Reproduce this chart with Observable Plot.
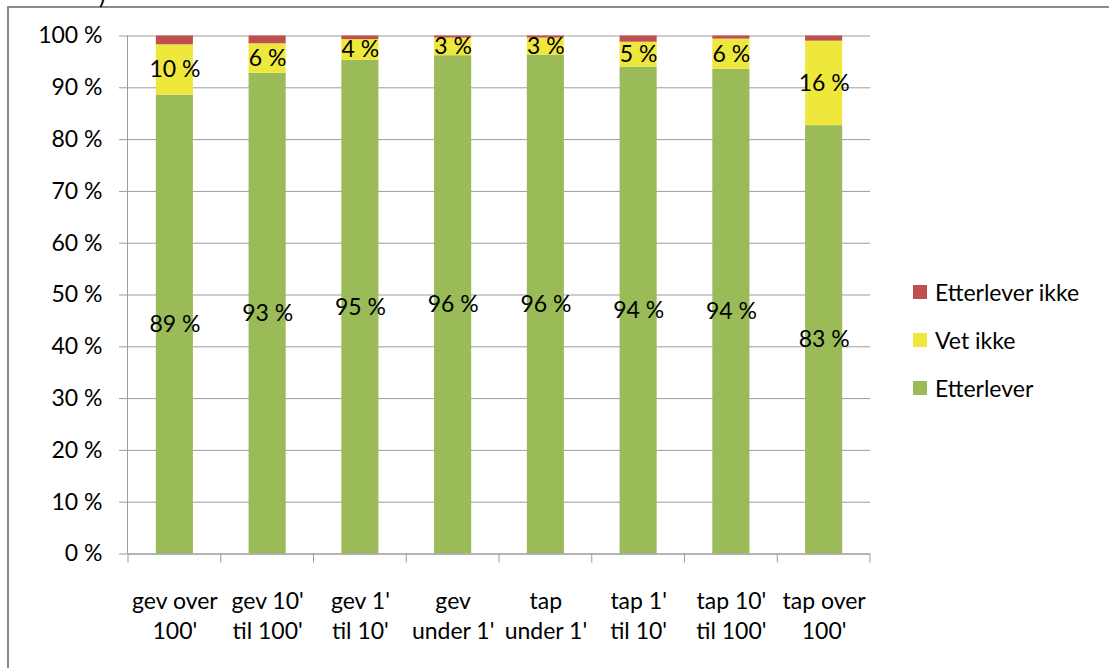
<!DOCTYPE html>
<html>
<head>
<meta charset="utf-8">
<script src="https://cdn.jsdelivr.net/npm/d3@7"></script>
<script src="https://cdn.jsdelivr.net/npm/@observablehq/plot@0.6"></script>
<style>
  body { margin: 0; background: #fff; }
  #wrap { position: relative; width: 1109px; height: 668px; overflow: hidden;
          font-family: Lato, "Liberation Sans", sans-serif; color: #000; }
  #wrap svg { position: absolute; left: 0; top: 0; }
  #frame { position: absolute; left: 7px; top: 6px; right: -4px; bottom: -4px;
           border-top: 2px solid #8a8a8a; border-left: 2px solid #8a8a8a; }
  #cut { position: absolute; left: 99px; top: -20px; font-size: 24px; }
  #legend { position: absolute; left: 913px; top: 268px; font-size: 23px; }
  #legend .item { display: flex; align-items: center; height: 48px; }
  #legend .sw { width: 14px; height: 14px; margin-right: 8px; }
</style>
</head>
<body>
<div id="wrap">
  <div id="frame"></div>
  <div id="cut">)</div>
  <div id="legend"></div>
</div>
<script>
// Size of the transaction, grouped as gain (gev) or loss (tap)
const categories = [
  "gev over\n100'", "gev 10'\ntil 100'", "gev 1'\ntil 10'", "gev\nunder 1'",
  "tap\nunder 1'", "tap 1'\ntil 10'", "tap 10'\ntil 100'", "tap over\n100'"
];
// Share of answers per group, in percent
const etterlever     = [88.6, 92.8, 95.3, 96.2, 96.3, 94.0, 93.6, 82.7];
const vetIkke        = [ 9.7,  5.7,  4.0,  3.4,  3.3,  4.8,  5.8, 16.3];
const etterleverIkke = [ 1.7,  1.5,  0.7,  0.4,  0.4,  1.2,  0.6,  1.0];

const seriesNames  = ["Etterlever", "Vet ikke", "Etterlever ikke"];
const seriesColors = ["#9bbb59", "#efe83c", "#c0504d"];
const yTicks = [0, 10, 20, 30, 40, 50, 60, 70, 80, 90, 100];

// Long table, bottom-to-top stacking order
const rows = [];
categories.forEach((c, i) => {
  rows.push({category: c, series: seriesNames[0], value: etterlever[i]});
  rows.push({category: c, series: seriesNames[1], value: vetIkke[i]});
  rows.push({category: c, series: seriesNames[2], value: etterleverIkke[i]});
});

const font = 'Lato, "Liberation Sans", sans-serif';
const gray = "#9c9c9c";

const plot = Plot.plot({
  width: 1109,
  height: 668,
  marginTop: 35.5,
  marginBottom: 114.5,
  marginLeft: 128,
  marginRight: 239,
  style: {fontFamily: font, fontSize: "23px", color: "#000", background: "transparent", overflow: "visible"},
  x: {domain: categories, paddingInner: 0.6, paddingOuter: 0.3, round: false, label: null},
  y: {domain: [0, 100], label: null},
  color: {domain: seriesNames, range: seriesColors},
  marks: [
    Plot.gridY(yTicks, {stroke: gray, strokeOpacity: 1}),
    Plot.axisY({
      ticks: yTicks, tickSize: 9, tickPadding: 17, stroke: gray, fill: "#000",
      tickFormat: d => `${d} %`, fontSize: 23, label: null
    }),
    Plot.axisX({
      tickSize: 0, tickPadding: 34, fill: "#000", fontSize: 23,
      lineHeight: 1.3, label: null
    }),
    Plot.barY(rows, Plot.stackY({x: "category", y: "value", z: "series", fill: "series"})),
    Plot.ruleY([0], {stroke: gray}),
    Plot.text(rows, Plot.stackY({
      x: "category", y: "value", z: "series",
      filter: d => d.series !== "Etterlever ikke",
      text: d => `${Math.round(d.value)} %`,
      fill: "#000", fontSize: 23
    }))
  ]
});

// Left axis line and category boundary ticks, placed from the scales
const xs = plot.scale("x"), ys = plot.scale("y");
const svg = d3.select(plot);
const x0 = xs.range[0];
const yBottom = ys.apply(0), yTop = ys.apply(100);
svg.append("line")
  .attr("x1", x0 - 0.5).attr("x2", x0 - 0.5)
  .attr("y1", yTop).attr("y2", yBottom)
  .attr("stroke", gray);
d3.range(categories.length + 1).forEach(i => {
  const bx = x0 + i * xs.step;
  svg.append("line")
    .attr("x1", bx).attr("x2", bx)
    .attr("y1", yBottom).attr("y2", yBottom + 9)
    .attr("stroke", gray);
});

document.getElementById("wrap").prepend(plot);

// Legend, top entry first
const legend = d3.select("#legend");
[2, 1, 0].forEach(i => {
  const item = legend.append("div").attr("class", "item");
  item.append("div").attr("class", "sw").style("background", seriesColors[i]);
  item.append("span").text(seriesNames[i]);
});
</script>
</body>
</html>
